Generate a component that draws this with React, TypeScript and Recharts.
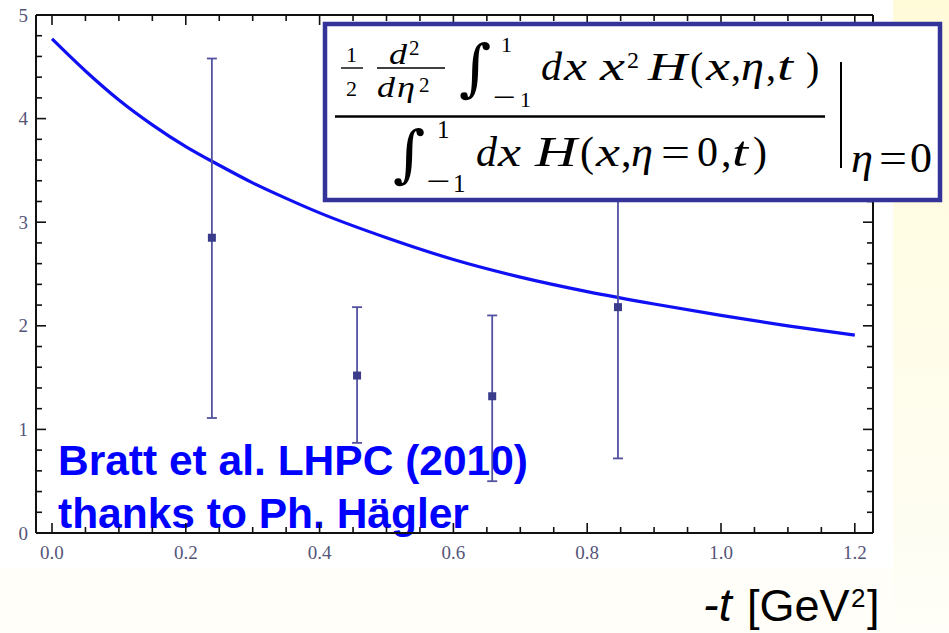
import { ComposedChart, ErrorBar, Line, Scatter, XAxis, YAxis } from "recharts";

// fit curve (-t in GeV^2)
const curveT = [0, 0.05, 0.1, 0.15, 0.2, 0.25, 0.3, 0.35, 0.4, 0.5, 0.6, 0.7, 0.8, 0.9, 1.0, 1.1, 1.2];
const curveValues = [4.77, 4.46, 4.18, 3.94, 3.73, 3.55, 3.38, 3.23, 3.09, 2.85, 2.64, 2.47, 2.33, 2.21, 2.1, 2.0, 1.91];

// lattice points with error bars
const latticeT = [0.239, 0.456, 0.658, 0.846];
const latticeValues = [2.85, 1.52, 1.32, 2.18];
const latticeErrDown = [1.74, 0.65, 0.82, 1.46];
const latticeErrUp = [1.73, 0.66, 0.78, 1.46];

const xMajorTicks = [0, 0.2, 0.4, 0.6, 0.8, 1.0, 1.2];
const xTickLabels = ["0.0", "0.2", "0.4", "0.6", "0.8", "1.0", "1.2"];
const xMinorTicks = [0.05, 0.1, 0.15, 0.25, 0.3, 0.35, 0.45, 0.5, 0.55, 0.65, 0.7, 0.75, 0.85, 0.9, 0.95, 1.05, 1.1, 1.15];
const yMajorTicks = [0, 1, 2, 3, 4, 5];
const yTickLabels = ["0", "1", "2", "3", "4", "5"];
const yMinorTicks = [0.2, 0.4, 0.6, 0.8, 1.2, 1.4, 1.6, 1.8, 2.2, 2.4, 2.6, 2.8, 3.2, 3.4, 3.6, 3.8, 4.2, 4.4, 4.6, 4.8];

const curveData = curveT.map((t, i) => ({ t, v: curveValues[i] }));
const latticeData = latticeT.map((t, i) => ({ t, v: latticeValues[i], err: [latticeErrDown[i], latticeErrUp[i]] }));
const xTicks = [...xMajorTicks, ...xMinorTicks].sort((a, b) => a - b);
const yTicks = [...yMajorTicks, ...yMinorTicks].sort((a, b) => a - b);

const X_DOMAIN: [number, number] = [-0.0239, 1.2272];
const FRAME = "#111";
const TICK_TEXT = "#55557a";
const MAJOR = 10;
const MINOR = 6;
const SERIF = "'Liberation Serif', 'DejaVu Serif', serif";
const SANS = "'Liberation Sans', Arial, sans-serif";

type TickProps = { x?: number; y?: number; payload?: { value: number } };

function BottomTick({ x = 0, y = 0, payload }: TickProps) {
  const i = xMajorTicks.indexOf(payload?.value ?? NaN);
  return (
    <g>
      <line x1={x} x2={x} y1={y} y2={y - (i >= 0 ? MAJOR : MINOR)} stroke={FRAME} strokeWidth={1.6} />
      {i >= 0 && (
        <text x={x} y={y + 26} textAnchor="middle" fontSize={19} fill={TICK_TEXT} fontFamily={SERIF}>
          {xTickLabels[i]}
        </text>
      )}
    </g>
  );
}

function TopTick({ x = 0, y = 0, payload }: TickProps) {
  const major = xMajorTicks.includes(payload?.value ?? NaN);
  return <line x1={x} x2={x} y1={y} y2={y + (major ? MAJOR : MINOR)} stroke={FRAME} strokeWidth={1.6} />;
}

function LeftTick({ x = 0, y = 0, payload }: TickProps) {
  const i = yMajorTicks.indexOf(payload?.value ?? NaN);
  return (
    <g>
      <line x1={x} x2={x + (i >= 0 ? MAJOR : MINOR)} y1={y} y2={y} stroke={FRAME} strokeWidth={1.6} />
      {i >= 0 && (
        <text x={x - 8} y={y} dy="0.35em" textAnchor="end" fontSize={19} fill={TICK_TEXT} fontFamily={SERIF}>
          {yTickLabels[i]}
        </text>
      )}
    </g>
  );
}

function RightTick({ x = 0, y = 0, payload }: TickProps) {
  const major = yMajorTicks.includes(payload?.value ?? NaN);
  return <line x1={x} x2={x - (major ? MAJOR : MINOR)} y1={y} y2={y} stroke={FRAME} strokeWidth={1.6} />;
}

function Marker(props: { cx?: number; cy?: number }) {
  const { cx = 0, cy = 0 } = props;
  return <rect x={cx - 4} y={cy - 4} width={8} height={8} fill="#3b3b8c" />;
}

// one glyph of the formula, optionally stretched to width w
function G({ x, y, s, i, c, w }: { x: number; y: number; s: number; i?: boolean; c: string; w?: number }) {
  return (
    <text
      x={x}
      y={y}
      fontSize={s}
      fontStyle={i ? "italic" : "normal"}
      textLength={w}
      lengthAdjust={w ? "spacingAndGlyphs" : undefined}
    >
      {c}
    </text>
  );
}

function Integral({ x, y }: { x: number; y: number }) {
  return (
    <text x={x} y={y} fontSize={62} fontStyle="italic" fontFamily="'DejaVu Serif', serif">
      ∫
    </text>
  );
}

function Formula() {
  return (
    <svg width={949} height={633} style={{ position: "absolute", left: 0, top: 0 }}>
      <rect x={325} y={24} width={615} height={176} fill="#fff" stroke="#333399" strokeWidth={4.5} />
      <g fontFamily={SERIF} fill="#000">
        {/* 1/2 */}
        <G x={346} y={62} s={22} c="1" />
        <line x1={341} x2={363} y1={68} y2={68} stroke="#000" strokeWidth={1.4} />
        <G x={346} y={96} s={22} c="2" />
        {/* d^2 / d eta^2 */}
        <G x={389} y={64} s={30} i c="d" w={18} />
        <G x={409} y={55} s={21} c="2" />
        <line x1={377} x2={445} y1={68} y2={68} stroke="#000" strokeWidth={1.4} />
        <G x={377} y={97} s={30} i c="d" w={18} />
        <G x={397} y={97} s={30} i c="η" w={18} />
        <G x={419} y={92} s={21} c="2" />
        {/* numerator integral */}
        <Integral x={459} y={89} />
        <G x={501} y={52} s={22} c="1" />
        <text x={493} y={107} fontSize={30} textLength={23} lengthAdjust="spacingAndGlyphs">−</text>
        <G x={520} y={107} s={22} c="1" />
        <G x={541} y={80} s={40} i c="d" w={21} />
        <G x={564} y={80} s={40} i c="x" w={23} />
        <G x={600} y={80} s={40} i c="x" w={25} />
        <G x={627} y={68} s={24} c="2" />
        <G x={648} y={80} s={40} i c="H" w={39} />
        <G x={690} y={80} s={40} c="(" />
        <G x={706} y={80} s={40} i c="x" w={24} />
        <G x={731} y={80} s={40} c="," />
        <G x={741} y={80} s={40} i c="η" w={23} />
        <G x={766} y={80} s={40} c="," />
        <G x={777} y={80} s={40} i c="t" w={16} />
        <G x={806} y={80} s={40} c=")" />
        {/* fraction bar */}
        <line x1={335} x2={825} y1={116.5} y2={116.5} stroke="#000" strokeWidth={2.6} />
        {/* denominator */}
        <Integral x={393} y={175} />
        <G x={437} y={138} s={25} c="1" />
        <text x={426} y={192} fontSize={32} textLength={24} lengthAdjust="spacingAndGlyphs">−</text>
        <G x={453} y={192} s={25} c="1" />
        <G x={476} y={166} s={42} i c="d" w={21} />
        <G x={498} y={166} s={42} i c="x" w={23} />
        <G x={535} y={166} s={42} i c="H" w={42} />
        <G x={580} y={166} s={42} c="(" />
        <G x={596} y={166} s={42} i c="x" w={24} />
        <G x={621} y={166} s={42} c="," />
        <G x={631} y={166} s={42} i c="η" w={22} />
        <G x={661} y={166} s={42} c="=" w={29} />
        <G x={697} y={166} s={42} c="0" w={21} />
        <G x={721} y={166} s={42} c="," />
        <G x={732} y={166} s={42} i c="t" w={16} />
        <G x={753} y={166} s={42} c=")" />
        {/* evaluated at */}
        <line x1={841} x2={841} y1={62} y2={168} stroke="#000" strokeWidth={2} />
        <G x={851} y={172} s={42} i c="η" w={22} />
        <G x={879} y={172} s={42} c="=" w={28} />
        <G x={910} y={172} s={42} c="0" w={22} />
      </g>
    </svg>
  );
}

export default function App() {
  return (
    <div style={{ position: "absolute", left: 0, top: 0, width: 949, height: 633, overflow: "hidden", background: "#fffef8" }}>
      <div style={{ position: "absolute", left: 0, top: 0, width: 893, height: 568, background: "#fff" }} />
      <div
        style={{
          position: "absolute",
          left: 893,
          top: 0,
          width: 56,
          height: 633,
          background: "linear-gradient(#fffbd9, #fffdeb 60%, #fffef8)",
        }}
      />
      <svg width={949} height={633} style={{ position: "absolute", left: 0, top: 0 }}>
        <g fontFamily={SANS} fontWeight="bold" fontSize={42.5} fill="#0000ff">
          <text x={58} y={475}>Bratt et al. LHPC (2010)</text>
          <text x={58} y={528}>thanks to Ph. Hägler</text>
        </g>
        <text y={621} fontFamily={SANS} fontSize={45} fill="#000">
          <tspan x={703} fontSize={47} fontStyle="italic">-t</tspan>
          <tspan x={747}>[GeV</tspan>
          <tspan x={851} y={607} fontSize={26}>2</tspan>
          <tspan x={867} y={621}>]</tspan>
        </text>
      </svg>
      <div style={{ position: "absolute", left: 0, top: 0 }}>
        <ComposedChart width={949} height={633} margin={{ top: 14, right: 75, bottom: 99, left: 35 }}>
          <XAxis
            xAxisId="bottom"
            type="number"
            dataKey="t"
            domain={X_DOMAIN}
            allowDataOverflow
            ticks={xTicks}
            interval={0}
            height={1}
            tickSize={0}
            tickMargin={0}
            tickLine={false}
            axisLine={{ stroke: FRAME, strokeWidth: 2 }}
            tick={BottomTick}
          />
          <XAxis
            xAxisId="top"
            orientation="top"
            type="number"
            dataKey="t"
            domain={X_DOMAIN}
            allowDataOverflow
            ticks={xTicks}
            interval={0}
            height={1}
            tickSize={0}
            tickMargin={0}
            tickLine={false}
            axisLine={{ stroke: FRAME, strokeWidth: 2 }}
            tick={TopTick}
          />
          <YAxis
            yAxisId="left"
            type="number"
            domain={[0, 5]}
            allowDataOverflow
            ticks={yTicks}
            interval={0}
            width={1}
            tickSize={0}
            tickMargin={0}
            tickLine={false}
            axisLine={{ stroke: FRAME, strokeWidth: 2 }}
            tick={LeftTick}
          />
          <YAxis
            yAxisId="right"
            orientation="right"
            type="number"
            domain={[0, 5]}
            allowDataOverflow
            ticks={yTicks}
            interval={0}
            width={1}
            tickSize={0}
            tickMargin={0}
            tickLine={false}
            axisLine={{ stroke: FRAME, strokeWidth: 2 }}
            tick={RightTick}
          />
          <Line
            xAxisId="bottom"
            yAxisId="left"
            data={curveData}
            dataKey="v"
            type="monotone"
            stroke="#1010f4"
            strokeWidth={3.2}
            dot={false}
            isAnimationActive={false}
          />
          <Scatter
            xAxisId="bottom"
            yAxisId="left"
            data={latticeData}
            dataKey="v"
            fill="#3b3b8c"
            shape={Marker}
            isAnimationActive={false}
          >
            <ErrorBar dataKey="err" direction="y" width={5} stroke="#5252a0" strokeWidth={1.8} isAnimationActive={false} />
          </Scatter>
        </ComposedChart>
      </div>
      <Formula />
    </div>
  );
}
